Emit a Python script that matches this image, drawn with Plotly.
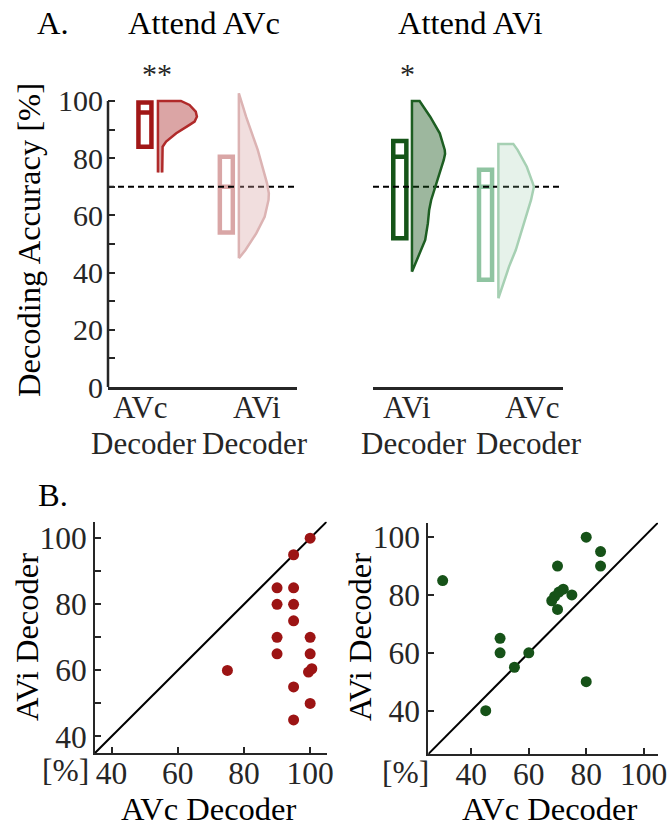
import plotly.graph_objects as go

# ---------------- data ----------------
# Scatter data (panel B): each point is one subject
attAVc_AVc_decoder = [100, 95, 90, 95, 90, 95, 95, 90, 100, 90, 100, 75, 99.5, 100.5, 95, 100, 95]
attAVc_AVi_decoder = [100, 95, 85, 85, 80, 80, 75, 70, 70, 65, 65, 60, 59.5, 60.5, 55, 50, 45]

attAVi_AVc_decoder = [30, 80, 85, 85, 70, 68, 69, 70.5, 72, 75, 70, 50, 50, 60, 55, 45, 80]
attAVi_AVi_decoder = [85, 100, 95, 90, 90, 78, 79.5, 81, 82, 80, 75, 65, 60, 60, 55, 40, 50]

chance_level = 70

# Box summaries (order: AVc|AVc, AVc|AVi, AVi|AVi, AVi|AVc)
box_q1 = [84, 54, 52, 37.5]
box_median = [96, 70, 80.5, 70]
box_q3 = [99.5, 80.5, 86, 76]

# Half-violin density profiles (relative width at each accuracy level)
v1_levels = [75, 80, 84, 85.8, 88.7, 91.3, 92.8, 94.5, 96.3, 98.6, 99.6, 100]
v1_density = [0.11, 0.11, 0.12, 0.21, 0.47, 0.77, 0.94, 1.0, 0.97, 0.81, 0.68, 0.59]
v2_levels = [45, 47.9, 53.7, 59.5, 65.4, 67.7, 71.2, 82.9, 94.5, 102.7]
v2_density = [0, 0.22, 0.58, 0.86, 0.99, 1.0, 0.94, 0.63, 0.24, 0]
v3_levels = [40.3, 45.6, 51.4, 57.2, 61.9, 65.4, 71.2, 79.4, 81.5, 82.9, 88.7, 94.5, 100]
v3_density = [0, 0.2, 0.4, 0.48, 0.52, 0.58, 0.74, 0.96, 1.0, 0.99, 0.84, 0.55, 0.23]
v4_levels = [31, 36.3, 42.1, 47.9, 53.7, 59.5, 65.4, 70, 71.2, 77, 82.9, 85]
v4_density = [0, 0.14, 0.30, 0.49, 0.63, 0.77, 0.92, 1.0, 0.97, 0.8, 0.54, 0.42]

# category labels of panel A (two lines each)
cats_left = ["AVc", "AVi"]
cats_right = ["AVi", "AVc"]
cat_suffix = "Decoder"

# ---------------- layout constants ----------------
FONT = "Liberation Serif, Times New Roman, serif"
TICKC = "#262626"
FS_TICK = 30
FS_TICK2 = 31.5
FS_CAT = 31
FS_TITLE = 32.5

top_xrange = [0.702, 2.36]
top_yrange = [0, 103]
left_range = [35, 105]
right_range = [25, 105]

# positions in axis units
box_pos = [1.026, 1.74, 0.936, 1.684]
vio_pos = [1.14, 1.85, 1.042, 1.796]
vio_w = [0.342, 0.263, 0.289, 0.31]
box_w = 0.114
# category label positions (pixels): first line / second line
cat_x_left = [(140, 144), (257, 255)]
cat_x_right = [(407, 414), (532, 529)]
cat_y = (407, 443)

box_colors = ["#a11717", "#d9a6a6", "#155418", "#8fc4a1"]
vio_fill = ["rgba(170,40,40,0.42)", "rgba(215,160,160,0.35)",
            "rgba(21,84,24,0.42)", "rgba(143,196,161,0.22)"]
vio_line = ["#b02a2a", "#dcb3b3", "#1d5e22", "#a6d0b3"]
red = "#9c1414"
green = "#165218"

axes_for = [("x", "y"), ("x", "y"), ("x2", "y2"), ("x2", "y2")]
profiles = [(v1_levels, v1_density), (v2_levels, v2_density),
            (v3_levels, v3_density), (v4_levels, v4_density)]

fig = go.Figure()

# chance lines
for xa, ya in [("x", "y"), ("x2", "y2")]:
    fig.add_trace(go.Scatter(x=top_xrange, y=[chance_level, chance_level], mode="lines",
                             line=dict(color="black", width=2, dash="6px,4px"),
                             xaxis=xa, yaxis=ya, showlegend=False, hoverinfo="skip"))

# half violins
for i, (lv, dn) in enumerate(profiles):
    xa, ya = axes_for[i]
    xs = [vio_pos[i] + d * vio_w[i] for d in dn] + [vio_pos[i], vio_pos[i]]
    ys = list(lv) + [lv[-1], lv[0]]
    fig.add_trace(go.Scatter(x=xs, y=ys, mode="lines", fill="toself",
                             fillcolor=vio_fill[i], line=dict(color=vio_line[i], width=2.5),
                             xaxis=xa, yaxis=ya, showlegend=False, hoverinfo="skip"))

# boxes
for i in range(4):
    xa, ya = axes_for[i]
    fig.add_trace(go.Box(x=[box_pos[i]], q1=[box_q1[i]], median=[box_median[i]], q3=[box_q3[i]],
                         lowerfence=[box_q1[i]], upperfence=[box_q3[i]],
                         width=box_w, whiskerwidth=0, boxpoints=False,
                         line=dict(color=box_colors[i], width=4.5),
                         fillcolor="rgba(0,0,0,0)",
                         xaxis=xa, yaxis=ya, showlegend=False))

# scatter panels
fig.add_trace(go.Scatter(x=left_range, y=left_range, mode="lines", line=dict(color="black", width=2),
                         xaxis="x3", yaxis="y3", showlegend=False, hoverinfo="skip"))
fig.add_trace(go.Scatter(x=attAVc_AVc_decoder, y=attAVc_AVi_decoder, mode="markers",
                         marker=dict(color=red, size=11),
                         xaxis="x3", yaxis="y3", showlegend=False))
fig.add_trace(go.Scatter(x=right_range, y=right_range, mode="lines", line=dict(color="black", width=2),
                         xaxis="x4", yaxis="y4", showlegend=False, hoverinfo="skip"))
fig.add_trace(go.Scatter(x=attAVi_AVc_decoder, y=attAVi_AVi_decoder, mode="markers",
                         marker=dict(color=green, size=11),
                         xaxis="x4", yaxis="y4", showlegend=False))

W, H = 672, 827
def px(x):
    return x / W
def py(y):
    return 1 - y / H

def tf(size):
    return dict(family=FONT, size=size, color=TICKC)

common_axis = dict(showgrid=False, zeroline=False, fixedrange=True, automargin=False)

scatter_axis = dict(showline=True, linecolor=TICKC, linewidth=2, ticks="inside", ticklen=6,
                    tickwidth=1.5, tickcolor=TICKC, tickvals=[40, 60, 80, 100],
                    tickfont=tf(FS_TICK2), **common_axis)

top_ydom = [py(387), py(92.4)]
layout = dict(
    template="none",
    width=W, height=H, margin=dict(l=0, r=0, t=0, b=0, pad=0, autoexpand=False),
    paper_bgcolor="white", plot_bgcolor="white",
    font=dict(family=FONT, size=FS_TITLE, color="black"),
    boxmode="overlay",
    xaxis=dict(domain=[px(108), px(297)], range=top_xrange, anchor="y",
               showline=True, linecolor=TICKC, linewidth=2.5, ticks="",
               showticklabels=False, **common_axis),
    yaxis=dict(domain=top_ydom, range=top_yrange, anchor="x",
               showline=False, ticks="inside", ticklen=7, tickwidth=2, tickcolor=TICKC,
               tickvals=[0, 20, 40, 60, 80, 100], ticklabelstandoff=4, tickfont=tf(FS_TICK),
               minor=dict(tickvals=[10, 30, 50, 70, 90], ticks="inside", ticklen=7,
                          tickwidth=2, tickcolor=TICKC),
               **common_axis),
    xaxis2=dict(domain=[px(373), px(563)], range=top_xrange, anchor="y2",
                showline=True, linecolor=TICKC, linewidth=2.5, ticks="",
                showticklabels=False, **common_axis),
    yaxis2=dict(domain=top_ydom, range=top_yrange, anchor="x2",
                showline=False, showticklabels=False, ticks="", **common_axis),
    xaxis3=dict(domain=[px(95), px(326.7)], range=left_range, anchor="y3",
                ticklabelstandoff=-9, **scatter_axis),
    yaxis3=dict(domain=[py(753), py(521.7)], range=left_range, anchor="x3",
                minor=dict(tickvals=[50, 70, 90], ticks="inside", ticklen=6,
                           tickwidth=1.5, tickcolor=TICKC),
                **scatter_axis),
    xaxis4=dict(domain=[px(428.3), px(658)], range=right_range, anchor="y4",
                ticklabelstandoff=-9, **scatter_axis),
    yaxis4=dict(domain=[py(754), py(522.7)], range=right_range, anchor="x4",
                **scatter_axis),
)
fig.update_layout(**layout)

# y axis line of top-left panel (0 to 100 only)
fig.add_shape(type="line", xref="x domain", yref="y", x0=0, x1=0, y0=0, y1=100,
              line=dict(color=TICKC, width=2.5))

def ann(text, x, y, size=FS_TITLE, angle=0, color="black"):
    fig.add_annotation(text=text, x=px(x), y=py(y), xref="paper", yref="paper",
                       showarrow=False, xanchor="center", yanchor="middle",
                       textangle=angle, font=dict(family=FONT, size=size, color=color))

# category labels under panel A
for cats, xs in [(cats_left, cat_x_left), (cats_right, cat_x_right)]:
    for name, (x1, x2) in zip(cats, xs):
        ann(name, x1, cat_y[0], size=FS_CAT, color=TICKC)
        ann(cat_suffix, x2, cat_y[1], size=FS_CAT, color=TICKC)

ann("A.", 53, 23)
ann("Attend AVc", 204, 23)
ann("Attend AVi", 471, 23)
ann("B.", 53, 495)
ann("**", 157, 73, size=30, color=TICKC)
ann("*", 408, 73, size=30, color=TICKC)
ann("Decoding Accuracy [%]", 29, 240, angle=-90)
ann("AVi Decoder", 27, 637, angle=-90)
ann("AVi Decoder", 360, 637, angle=-90)
ann("AVc Decoder", 209, 809)
ann("AVc Decoder", 550, 809)
ann("[%]", 65, 770, size=FS_TICK2, color=TICKC)
ann("[%]", 405, 772, size=FS_TICK2, color=TICKC)

fig.write_html("out.html")
